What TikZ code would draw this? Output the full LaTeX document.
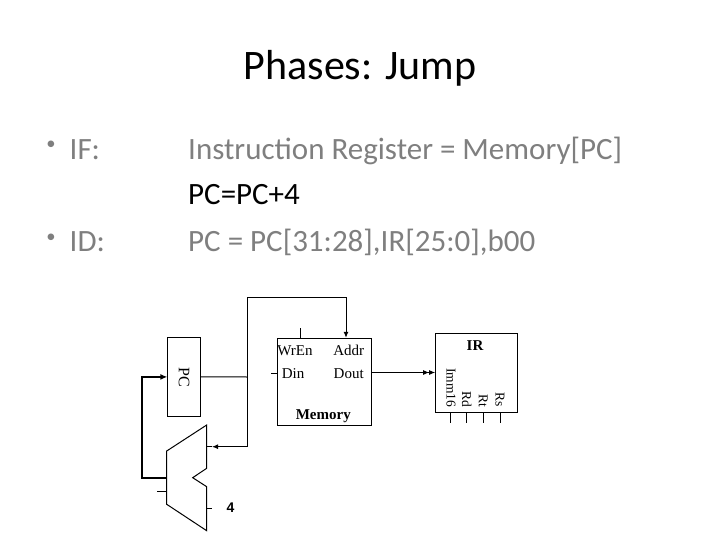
\documentclass[tikz,border=0pt]{standalone}
\usepackage{fontspec}
\usetikzlibrary{arrows.meta}
\setmainfont{Carlito}
\newfontfamily\hwfont{Liberation Serif}
\newfontfamily\numfont{Liberation Sans}
\definecolor{bulletgray}{RGB}{127,127,127}
\newcommand{\slidebullet}{\makebox[37.6pt][c]{\raisebox{9.5pt}{\scalebox{0.6}{•}}}}
\begin{document}
\begin{tikzpicture}[>={Latex[length=6pt,width=5pt]}, x=1pt, y=-1pt,
    box/.style={draw, line width=1pt, inner sep=0pt},
    hw/.style={font=\hwfont\fontsize{15}{15}\selectfont, inner sep=0pt},
    field/.style={font=\hwfont\fontsize{13.5}{13.5}\selectfont, inner sep=0pt, rotate=-90, anchor=east},
    body/.style={font=\fontsize{31}{31}\selectfont, inner sep=0pt, anchor=base west},
    wire/.style={line width=1pt}]
\useasboundingbox (0,0) rectangle (720,540);

% slide text
\node[font=\fontsize{42}{42}\selectfont, inner sep=0pt, anchor=base] (title) at (360,79.3) {Phases: Jump};
\node[body, text=bulletgray] (if) at (31.9,159.3) {\slidebullet IF:};
\node[body, text=bulletgray] (ifpc) at (188,159.3) {Instruction Register = Memory[PC]};
\node[body] (inc) at (188,205) {PC=PC+4};
\node[body, text=bulletgray] (id) at (31.9,251.7) {\slidebullet ID:};
\node[body, text=bulletgray] (jump) at (188,251.7) {PC = PC[31:28],IR[25:0],b00};

% PC register
\node[box, minimum width=32.3pt, minimum height=78.3pt] (pc) at (184,376.9) {};
\node[hw, rotate=-90, font=\hwfont\fontsize{16}{16}\selectfont] (pclabel) at (pc.center) {PC};

% memory
\node[box, minimum width=93.7pt, minimum height=87.4pt] (mem) at (324.2,382) {};
\node[hw, anchor=base] (wren) at (295,355.7) {WrEn};
\node[hw, anchor=base] (addr) at (348.7,355.7) {Addr};
\node[hw, anchor=base] (din) at (293,378.3) {Din};
\node[hw, anchor=base] (dout) at (348.7,378.3) {Dout};
\node[hw, anchor=base, font=\hwfont\bfseries\fontsize{15}{15}\selectfont] (memlabel) at (323.3,419) {Memory};

% instruction register
\node[box, minimum width=81.6pt, minimum height=78.7pt] (ir) at (476.5,373.3) {};
\node[hw, anchor=base, font=\hwfont\bfseries\fontsize{15}{15}\selectfont] (irlabel) at (475,350) {IR};
\node[field] (imm) at (451,407.3) {Imm16};
\node[field] (rd) at (466.7,407.3) {Rd};
\node[field] (rt) at (483.3,407.3) {Rt};
\node[field] (rs) at (500,407.3) {Rs};
\foreach \x in {450,466.7,483.3,500}
{
    \draw[wire] (ir.south -| \x,0) -- ++(0,9.6);
}

% adder
\draw[wire] (206.7,425) -- (166.7,451) -- (166.7,504.3) -- (206.7,530.7)
    -- (206.7,486.7) -- (192.7,477.7) -- (206.7,468.3) -- cycle;
\coordinate (adda) at (206.7,446.7);
\coordinate (addb) at (206.7,508.3);
\coordinate (addc) at (166.7,491.7);
\coordinate (addout) at (166.7,477.7);
\node[font=\numfont\bfseries\fontsize{14}{14}\selectfont, inner sep=0pt] (four) at (230.5,508) {4};

% wires
\coordinate (split) at (247.3,377);
\draw[wire] (pc.east) -- (split);
\draw[wire,->] (split) -- ++(0,-79.7) -| (mem.north -| 346,0);
\draw[wire,->] (split) |- (212,446.7);
\draw[wire] (adda) -- ++(5.3,0);
\draw[wire] (addb) -- ++(5,0);
\draw[wire] (addc) -- ++(-10,0);
\draw[line width=2pt,-{Latex[length=7pt,width=6pt]}] (addout) -- (142.3,477.7) |- (pc.west);
\draw[wire] (mem.north -| 300.7,0) -- ++(0,-10);
\draw[wire] (mem.west |- 0,373.3) -- ++(-5.6,0);
\draw[wire,-{Latex[length=6pt,width=5pt]Latex[length=6pt,width=5pt]}] (mem.east |- 0,372.5) -- (ir.west |- 0,372.5);

\end{tikzpicture}
\end{document}
